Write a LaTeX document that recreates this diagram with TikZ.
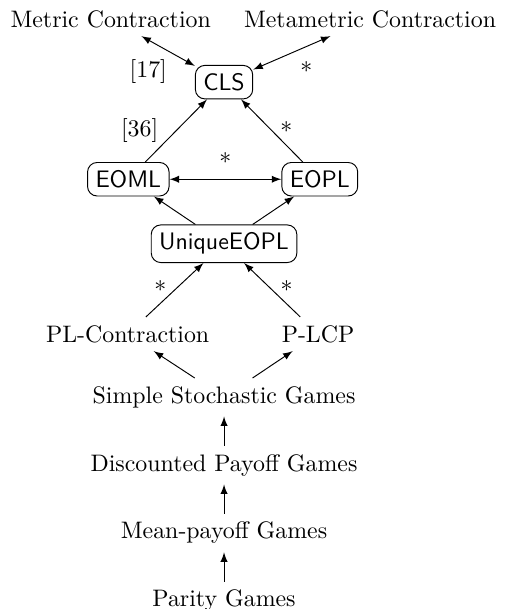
\documentclass[tikz,border=0pt]{standalone}
\usepackage{amsmath}
\usepackage{tikz}
\usetikzlibrary{arrows}

\tikzset{problem/.style={draw, rounded corners=4pt, font=\sffamily}}

\begin{document}
\begin{tikzpicture}[>=latex]
        \useasboundingbox (-3.30,1.21) rectangle (4.13,-7.76);

        % Contraction problems
        \node (metric) at (-1.67,0.93) {Metric Contraction};
        \node (metametric) at (2.15,0.93) {Metametric Contraction};

        % Classes
        \node[problem] (cls) at (0,0) {CLS};
        \node[problem] (eoml) at (-1.41,-1.43) {EOML};
        \node[problem] (eopl) at (1.41,-1.43) {EOPL};
        \node[problem] (unique) at (0,-2.38) {UniqueEOPL};

        % Problems below UniqueEOPL
        \node (plcontr) at (-1.42,-3.71) {PL-Contraction};
        \node (plcp) at (1.385,-3.71) {P-LCP};

        % Games
        \node (ssg) at (0,-4.64) {Simple Stochastic Games};
        \node (dpg) at (0,-5.64) {Discounted Payoff Games};
        \node (mpg) at (0,-6.64) {Mean-payoff Games};
        \node (pg) at (0,-7.64) {Parity Games};

        % Equivalences with CLS
        \draw[<->] (metric) -- (cls) node[midway, below left, xshift=3pt] {[17]};
        \draw[<->] (metametric) -- (cls) node[midway, below right] {*};

        % Reductions between classes
        \draw[->] (eoml) -- (cls) node[midway, left=4pt] {[36]};
        \draw[->] (eopl) -- (cls) node[midway, right] {*};
        \draw[<->] (eoml) -- (eopl) node[midway, above] {*};
        \draw[->] (unique) -- (eoml);
        \draw[->] (unique) -- (eopl);

        % Reductions to UniqueEOPL
        \draw[->] (plcontr) -- (unique) node[midway, left] {*};
        \draw[->] (plcp) -- (unique) node[midway, right] {*};
        \draw[->] (ssg) -- (plcontr);
        \draw[->] (ssg) -- (plcp);

        % Chain of games
        \foreach \a/\b in {pg/mpg, mpg/dpg, dpg/ssg} {
          \draw[->] (\a) -- (\b);
        }
      \end{tikzpicture}
\end{document}
